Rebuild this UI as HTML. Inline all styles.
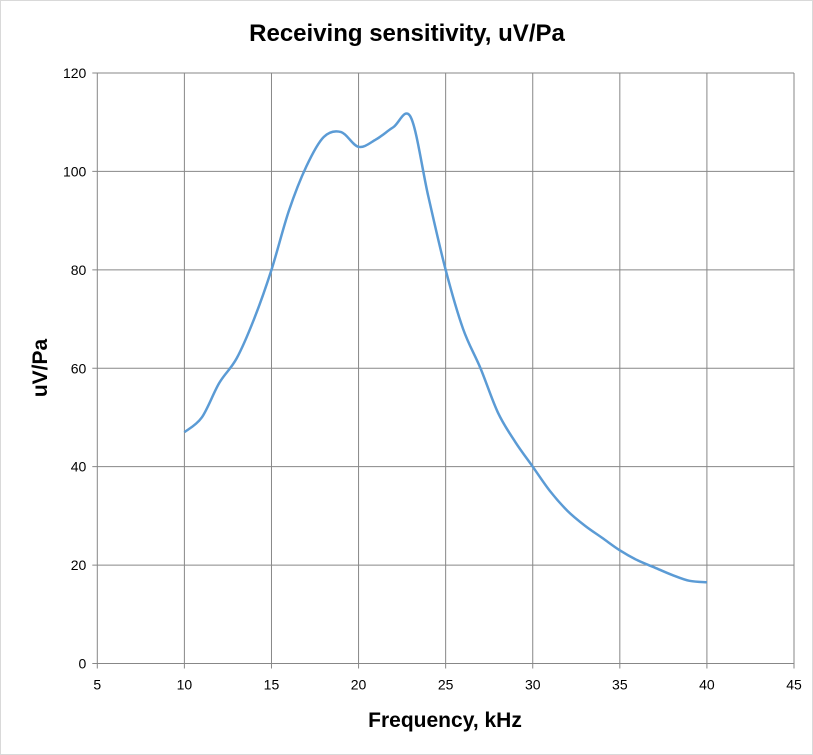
<!DOCTYPE html>
<html><head><meta charset="utf-8"><style>
body{margin:0;background:#fff;}
svg{display:block;font-family:"Liberation Sans",sans-serif;}
</style></head><body>
<svg id="c" width="813" height="755">
<rect x="0.5" y="0.5" width="812" height="754" fill="#fff" stroke="#d9d9d9"/>
<text x="407" y="41" text-anchor="middle" font-size="24" font-weight="bold">Receiving sensitivity, uV/Pa</text>
<text x="445" y="727" text-anchor="middle" font-size="21" font-weight="bold">Frequency, kHz</text>
<text transform="translate(47,368) rotate(-90)" text-anchor="middle" font-size="21" font-weight="bold">uV/Pa</text>
<g id="grid"></g><g id="ticks"></g><g id="series"></g>
</svg>
<script>
const xTicks=[5,10,15,20,25,30,35,40,45];
const yTicks=[0,20,40,60,80,100,120];
const freqs=[10,11,12,13,14,15,16,17,18,19,20,21,22,23,24,25,26,27,28,29,30,31,32,33,34,35,36,37,38,39,40];
const sens=[47,50,57,62,70,80,92,101,107,108,105,106.5,109,111,95,80,68,60,51,45,40,35,31,28,25.5,23,21,19.5,18,16.8,16.5];
const X0=97.3,X1=794,Y0=663.5,Y1=73;
const sx=v=>X0+(v-5)/40*(X1-X0);
const sy=v=>Y0-v/120*(Y0-Y1);
const NS="http://www.w3.org/2000/svg";
const g=document.getElementById('grid'),t=document.getElementById('ticks'),s=document.getElementById('series');
function mk(tag,at,p){const e=document.createElementNS(NS,tag);for(const k in at)e.setAttribute(k,at[k]);p.appendChild(e);return e;}
xTicks.forEach(v=>{
 const l=mk('line',{x1:sx(v),x2:sx(v),y1:Y1,y2:Y0+5,stroke:'#878787','stroke-width':1},g);
 
 
 const tx=mk('text',{x:sx(v),y:Y0+26,'text-anchor':'middle','font-size':14,fill:'#000'},t);
 tx.textContent=v;
 
 
});
yTicks.forEach(v=>{
 const l=mk('line',{x1:X0-5,x2:X1,y1:sy(v),y2:sy(v),stroke:'#878787','stroke-width':1},g);
 
 
 const tx=mk('text',{x:X0-11,y:sy(v)+5,'text-anchor':'end','font-size':14,fill:'#000'},t);
 tx.textContent=v;
 
 
});
const pts=freqs.map((f,i)=>[sx(f),sy(sens[i])]);
let d='M'+pts[0][0]+','+pts[0][1];
for(let i=0;i<pts.length-1;i++){
 const p0=pts[Math.max(0,i-1)],p1=pts[i],p2=pts[i+1],p3=pts[Math.min(pts.length-1,i+2)];
 const c1=[p1[0]+(p2[0]-p0[0])/6,p1[1]+(p2[1]-p0[1])/6];
 const c2=[p2[0]-(p3[0]-p1[0])/6,p2[1]-(p3[1]-p1[1])/6];
 d+=` C${c1[0]},${c1[1]} ${c2[0]},${c2[1]} ${p2[0]},${p2[1]}`;
}
const path=mk('path',{d:d,fill:'none',stroke:'#5b9bd5','stroke-width':2.5,'stroke-linejoin':'round'},s);


</script>
</body></html>
